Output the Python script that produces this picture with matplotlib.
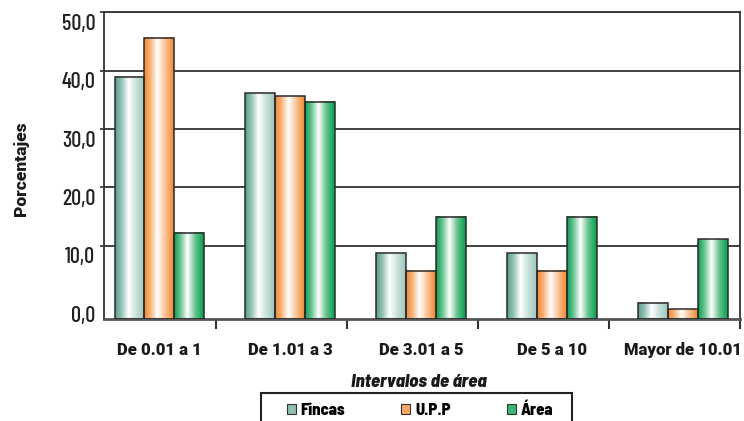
import numpy as np
import matplotlib
matplotlib.use('Agg')
import matplotlib.pyplot as plt
from matplotlib.colors import LinearSegmentedColormap
from matplotlib.patches import Patch, Rectangle
from matplotlib.transforms import ScaledTranslation

# datos
categorias = ['De 0.01 a 1', 'De 1.01 a 3', 'De 3.01 a 5', 'De 5 a 10', 'Mayor de 10.01']
series = ['Fincas', 'U.P.P', 'Área']
fincas = [38.9, 36.1, 8.7, 8.7, 0.2]
upp = [45.6, 35.6, 5.7, 5.7, -0.9]
area = [12.2, 34.6, 15.0, 14.9, 11.1]
yticks = [0, 10, 20, 30, 40, 50]
ytick_labels = ['0,0', '10,0', '20,0', '30,0', '40,0', '50,0']

COND = ['Barlow Condensed', 'Liberation Sans Narrow', 'DejaVu Sans']
SEMI = ['Barlow Semi Condensed', 'Barlow Condensed', 'Liberation Sans Narrow', 'DejaVu Sans']
HEAVY = ['Roboto', 'Liberation Sans', 'DejaVu Sans']
plt.rcParams['font.family'] = COND

# degradados de cada serie (izq -> der)
stops = [0, 0.22, 0.45, 0.72, 1]
grad = {'Fincas': ['#5a9c8b', '#94c4b8', '#ffffff', '#c6e0d9', '#9cc5ba'],
        'U.P.P': ['#f2862f', '#f8b57c', '#ffffff', '#f9c08f', '#f08833'],
        'Área': ['#0b9c52', '#6cc592', '#ffffff', '#63c18b', '#00a04e']}
swatch = {'Fincas': '#8fc0b3', 'U.P.P': '#f6a965', 'Área': '#3db574'}

ymin, ymax = -2.6, 50
w = 0.228

fig = plt.figure(figsize=(7.44, 4.21), dpi=100)
ax = fig.add_axes([0.1402, 0.2416, 0.8544, 0.7292])

x = np.arange(len(categorias))
grad_data = np.linspace(0, 1, 256).reshape(1, -1)
for k, (name, vals) in enumerate(zip(series, [fincas, upp, area])):
    cmap = LinearSegmentedColormap.from_list(name, list(zip(stops, grad[name])))
    pos = x + (k - 1) * w
    bars = ax.bar(pos, np.array(vals) - ymin, w, bottom=ymin, facecolor='none',
                  edgecolor='#2b2b2b', linewidth=1.1, zorder=3)
    for b in bars:
        x0, y0 = b.get_x(), b.get_y()
        ax.imshow(grad_data, cmap=cmap, aspect='auto', zorder=2,
                  extent=[x0, x0 + b.get_width(), y0, y0 + b.get_height()])

ax.set_xlim(-0.42, len(categorias) - 1 + 0.435)
ax.set_ylim(ymin, ymax)

ax.set_yticks(yticks)
ax.set_yticklabels(ytick_labels, family=COND, fontweight=500)
ax.tick_params(axis='y', length=3, width=1.2, color='#333333', pad=3.5,
               labelsize=16, labelcolor='#222222')
ax.yaxis.get_major_ticks()[0].tick1line.set_visible(False)
off = ScaledTranslation(0, -7 / 72, fig.dpi_scale_trans)
for lab in ax.get_yticklabels():
    lab.set_transform(lab.get_transform() + off)

ax.set_axisbelow(True)
ax.yaxis.grid(True, color='#333333', linewidth=1.3)
ax.get_ygridlines()[0].set_visible(False)

ax.set_xticks(x + 0.435)
ax.set_xticklabels([])
ax.tick_params(axis='x', which='major', length=7, width=1.5, color='#333333')
ax.set_xticks(x, minor=True)
ax.set_xticklabels(categorias, minor=True, fontsize=12, fontweight=900, color='#1a1a1a',
                   family=HEAVY)
ax.tick_params(axis='x', which='minor', length=0, pad=16)

for s in ['left', 'top', 'right']:
    ax.spines[s].set_color('#333333')
    ax.spines[s].set_linewidth(1.3)
ax.spines['bottom'].set_color('#555555')
ax.spines['bottom'].set_linewidth(2)

fig.text(21 / 744, 1 - 169 / 421, 'Porcentajes', rotation=90, ha='center', va='center',
         fontsize=12.5, fontweight=900, color='#1a1a1a', family=HEAVY)
fig.text(419 / 744, 1 - 381.7 / 421, 'Intervalos de área', ha='center', va='center',
         fontsize=13.5, fontweight=800, style='italic', color='#1a1a1a', family=SEMI)

# leyenda
fig.patches.append(Rectangle((260.7 / 744, -0.05), 311 / 744, 0.05 + 1 - 393.3 / 421,
                             transform=fig.transFigure, fill=False, edgecolor='#222222',
                             linewidth=1.5, clip_on=False))
handles = [Patch(facecolor=swatch[s], edgecolor='#333333', linewidth=0.8) for s in series]
fig.legend(handles, series, loc='center', bbox_to_anchor=(420 / 744, 1 - 410 / 421),
           ncol=3, frameon=False, handlelength=0.55, handleheight=0.55, handletextpad=0.3,
           columnspacing=3.35, prop={'weight': 800, 'size': 12, 'family': SEMI})

fig.savefig('out.png', dpi=100)
